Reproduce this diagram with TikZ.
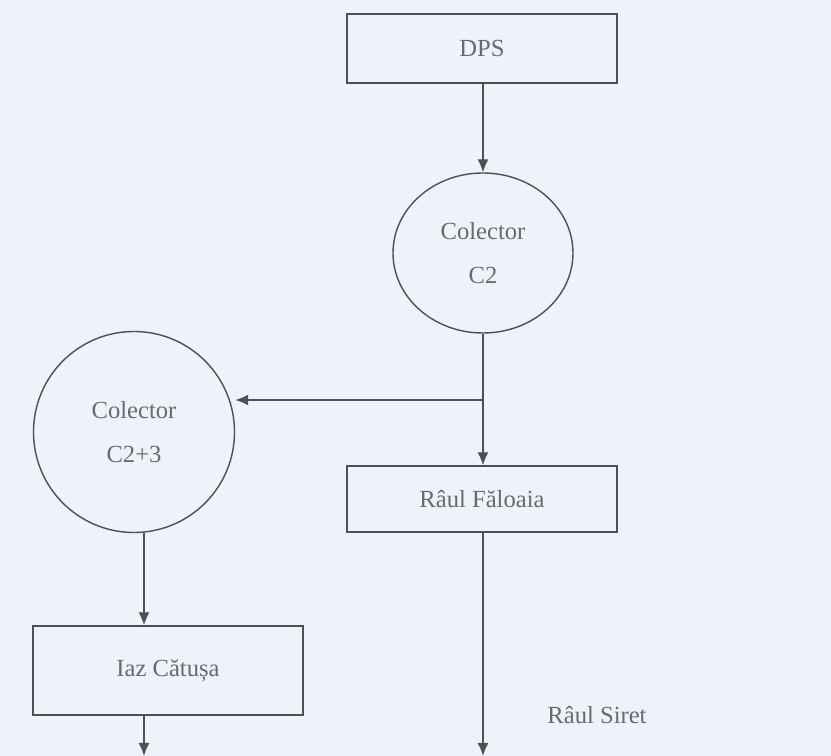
\documentclass[tikz,border=0pt]{standalone}
\usepackage{fontspec}
\setmainfont{Liberation Serif}
\usepackage{tikz}
\usetikzlibrary{shapes.geometric, arrows.meta}
\definecolor{bgcol}{HTML}{EEF2FA}
\definecolor{linecol}{HTML}{505050}
\definecolor{txtcol}{HTML}{6A6A6A}
\tikzset{
  box/.style={draw=linecol, thick, minimum width=5.4cm, text=txtcol, font=\fontsize{14}{25}\selectfont},
  pool/.style={draw=linecol, thick, ellipse, inner sep=0pt, align=center, text=txtcol, font=\fontsize{14}{25}\selectfont},
  flow/.style={draw=linecol, thick, -{Latex[length=2.6mm,width=2.2mm]}}
}
\begin{document}
\begin{tikzpicture}
\fill [bgcol] (0,0) rectangle (16.62,15.12);
\useasboundingbox (0,0) rectangle (16.62,15.12);
\node [box, minimum height=1.38cm] (dps) at (9.64,14.15) {DPS};
\node [pool, minimum width=3.6cm, minimum height=3.2cm] (c2) at (9.66,10.06) {Colector\\C2};
\node [pool, minimum width=4.02cm, minimum height=4.02cm] (c23) at (2.68,6.48) {Colector\\C2+3};
\node [box, minimum height=1.32cm] (faloaia) at (9.64,5.14) {Râul Făloaia};
\node [box, minimum height=1.78cm] (iaz) at (3.36,1.71) {Iaz Cătușa};
\node [text=txtcol, font=\fontsize{14}{25}\selectfont] (siret) at (11.94,0.82) {Râul Siret};
\coordinate (split) at (9.66,7.12);
\coordinate (out1) at (2.88,0);
\coordinate (out2) at (9.66,0);
\draw [flow] (dps.south -| c2.north) -- (c2.north);
\draw [flow] (c2.south) -- (faloaia.north -| c2.south);
\draw [flow] (split) -- (split -| c23.east);
\draw [flow] (c23.south -| out1) -- (iaz.north -| out1);
\draw [flow] (iaz.south -| out1) -- (out1);
\draw [flow] (faloaia.south -| out2) -- (out2);
\end{tikzpicture}
\end{document}
